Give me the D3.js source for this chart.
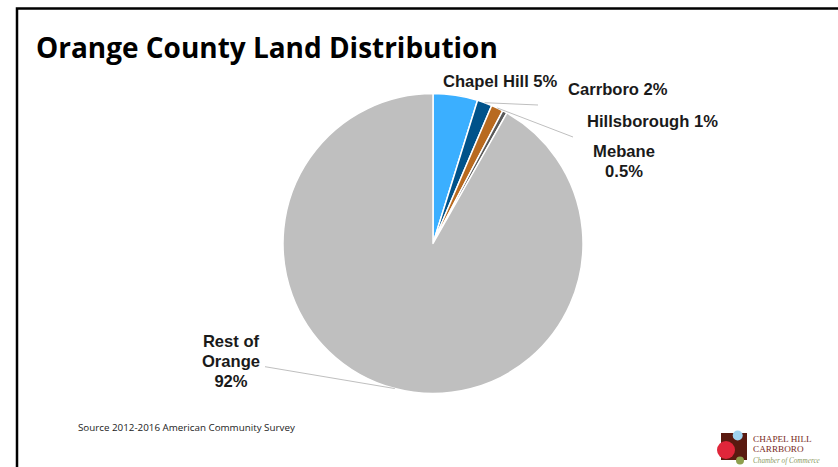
<!DOCTYPE html>
<html>
<head>
<meta charset="utf-8">
<script src="https://cdn.jsdelivr.net/npm/d3@7"></script>
<style>
  html, body { margin: 0; padding: 0; background: #fff; }
  svg { display: block; }
</style>
</head>
<body>
<svg id="chart" width="838" height="467"></svg>
<script>
// ---- data ----
const categories = ["Chapel Hill", "Carrboro", "Hillsborough", "Mebane", "Rest of Orange"];
const values = [4.8, 1.6, 1.3, 0.5, 91.8];
const labelTexts = [["Chapel Hill 5%"], ["Carrboro 2%"], ["Hillsborough 1%"], ["Mebane", "0.5%"], ["Rest of", "Orange", "92%"]];
const titleText = "Orange County Land Distribution";
const sourceText = "Source 2012-2016 American Community Survey";

// ---- styling / layout (not data) ----
const colors = ["#3BAFFF", "#00528A", "#B86A20", "#595959", "#BFBFBF"];
const labelLayout = [
  { x: 443, y: 86.5, anchor: "start", leader: null },
  { x: 568, y: 95, anchor: "start", leader: [538, 105] },
  { x: 587, y: 127, anchor: "start", leader: [573, 137] },
  { x: 624, y: 156.7, anchor: "middle", leader: null },
  { x: 231, y: 346.7, anchor: "middle", leader: [265, 366.7] }
];

const svg = d3.select("#chart");
const W = 838, H = 467;
const cx = 433, cy = 243.5, R = 150;

// frame
svg.append("path")
  .attr("d", `M17,${H} L17,8.5 L${W},8.5`)
  .attr("fill", "none").attr("stroke", "#000").attr("stroke-width", 2.5);

// title
const title = svg.append("text")
  .attr("x", 36).attr("y", 58)
  .attr("font-family", "'Open Sans', sans-serif")
  .attr("font-weight", 700)
  .attr("font-size", 26)
  .attr("fill", "#000")
  .text(titleText);
const tw = title.node().getComputedTextLength();
title.attr("font-size", 26 * 462 / tw);

// pie
const pie = d3.pie().sort(null).value(d => d)(values);
const arc = d3.arc().innerRadius(0).outerRadius(R);
const g = svg.append("g").attr("transform", `translate(${cx},${cy})`);
g.selectAll("path.slice")
  .data(pie)
  .join("path")
  .attr("class", "slice")
  .attr("d", arc)
  .attr("fill", (d, i) => colors[i])
  .attr("stroke", "#fff")
  .attr("stroke-width", 1.5)
  .attr("stroke-linejoin", "round");

// leader lines
pie.forEach((d, i) => {
  const L = labelLayout[i];
  if (!L.leader) return;
  const a = (d.startAngle + d.endAngle) / 2;
  const x0 = cx + R * Math.sin(a), y0 = cy - R * Math.cos(a);
  svg.append("line")
    .attr("x1", x0).attr("y1", y0)
    .attr("x2", L.leader[0]).attr("y2", L.leader[1])
    .attr("stroke", "#BFBFBF").attr("stroke-width", 1);
});

// labels
labelTexts.forEach((lines, i) => {
  const L = labelLayout[i];
  const t = svg.append("text")
    .attr("font-family", "'Liberation Sans', Arial, sans-serif")
    .attr("font-weight", 700)
    .attr("font-size", 16.6)
    .attr("fill", "#1a1a1a")
    .attr("text-anchor", L.anchor);
  lines.forEach((s, j) => {
    t.append("tspan").attr("x", L.x).attr("y", L.y + j * 20).text(s);
  });
});

// source
const src = svg.append("text")
  .attr("x", 78).attr("y", 431)
  .attr("font-family", "'Open Sans', sans-serif")
  .attr("font-size", 10)
  .attr("fill", "#222")
  .text(sourceText);
const sw = src.node().getComputedTextLength();
src.attr("font-size", 10 * 217 / sw);

// logo
const logo = svg.append("g");
logo.append("rect").attr("x", 721).attr("y", 433).attr("width", 26).attr("height", 27).attr("fill", "#5a1a10");
logo.append("circle").attr("cx", 737.7).attr("cy", 435.5).attr("r", 5).attr("fill", "#9fd3f0");
logo.append("circle").attr("cx", 726).attr("cy", 450).attr("r", 9).attr("fill", "#e0263a");
logo.append("circle").attr("cx", 740).attr("cy", 460.5).attr("r", 4).attr("fill", "#8ea04e");
logo.append("text").attr("x", 753).attr("y", 441.7)
  .attr("font-family", "'Liberation Serif', serif").attr("font-size", 9.2)
  .attr("fill", "#7a2b24").text("CHAPEL HILL");
logo.append("text").attr("x", 753).attr("y", 451.7)
  .attr("font-family", "'Liberation Serif', serif").attr("font-size", 9.2)
  .attr("fill", "#7a2b24").text("CARRBORO");
logo.append("text").attr("x", 753).attr("y", 462.5)
  .attr("font-family", "'Liberation Serif', serif").attr("font-style", "italic").attr("font-size", 7.2)
  .attr("fill", "#8c9a62").text("Chamber of Commerce");
</script>
</body>
</html>
